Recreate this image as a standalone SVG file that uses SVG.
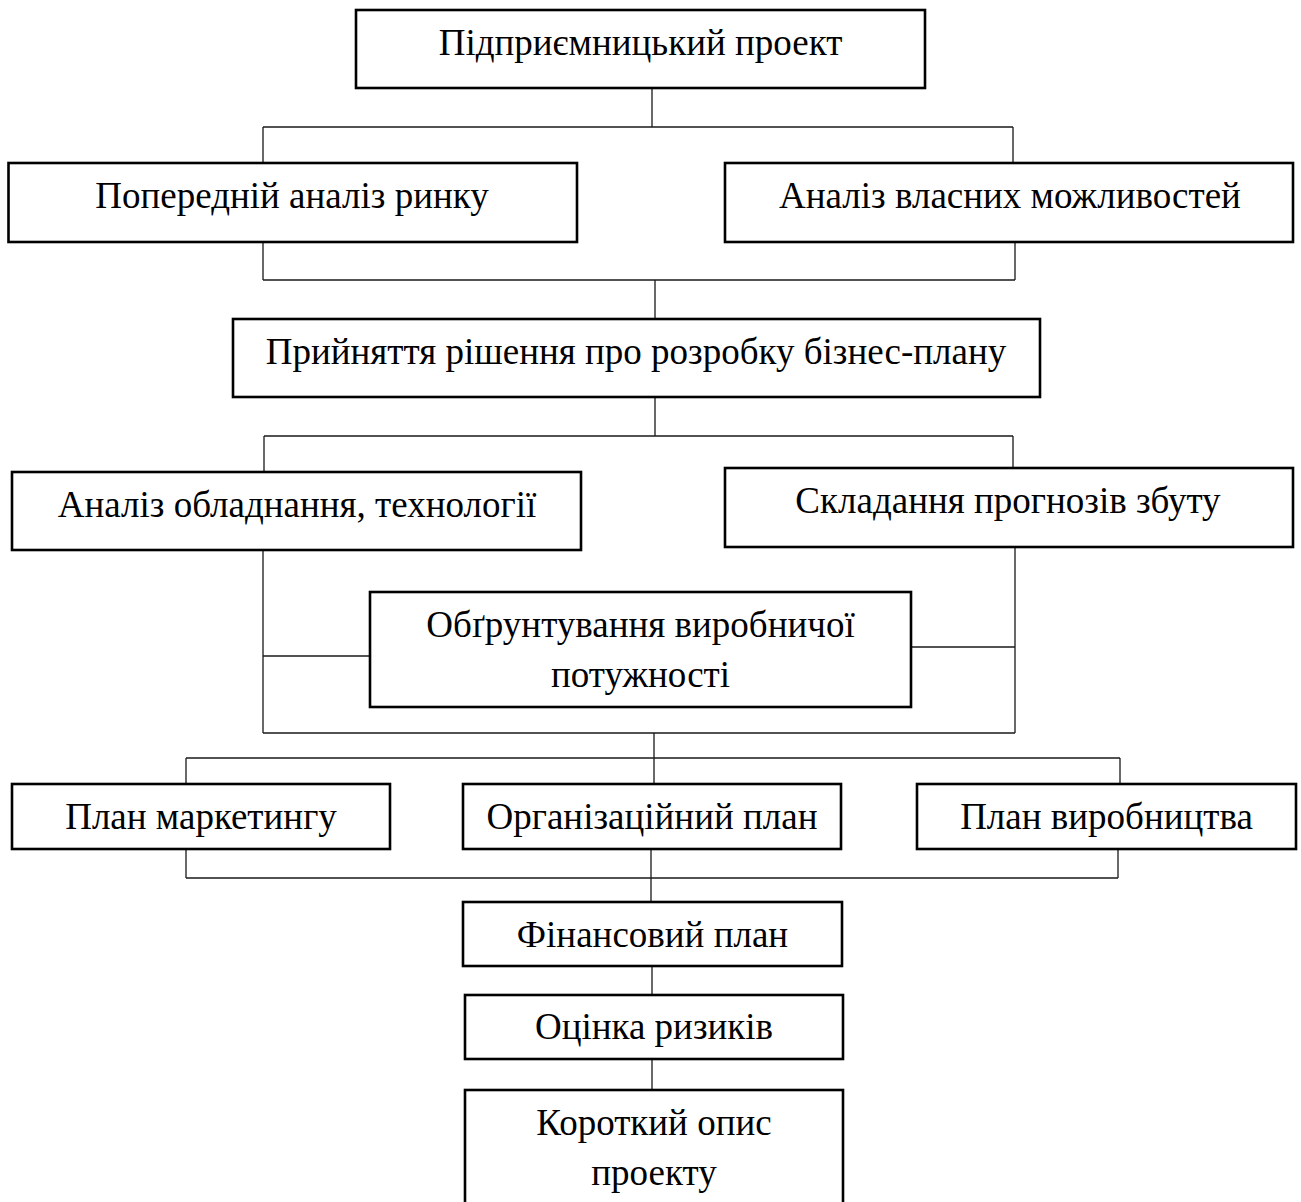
<svg xmlns="http://www.w3.org/2000/svg" width="1301" height="1202" viewBox="0 0 1301 1202">
  <style>
    .box { fill: #ffffff; stroke: #000000; stroke-width: 2.6; }
    .lbl { font-family: "Liberation Serif", "Times New Roman", serif; font-size: 37px; fill: #000000; text-anchor: middle; }
    .wire { fill: none; stroke: #1a1a1a; stroke-width: 1.3; }
  </style>
  <rect width="1301" height="1202" fill="#ffffff"/>

  <!-- connectors -->
  <g id="connectors" class="wire">
    <path d="M652 88 V127 M263 127 H1013 M263 127 V163 M1013 127 V163"/>
    <path d="M263 242 V280 M1015 242 V280 M263 280 H1015 M655 280 V319"/>
    <path d="M655 397 V436 M264 436 H1013 M264 436 V472 M1013 436 V468"/>
    <path d="M263 550 V733 M1015 547 V733 M263 733 H1015 M263 656 H370 M911 647 H1015"/>
    <path d="M654 733 V784 M186 758 H1120 M186 758 V784 M1120 758 V784"/>
    <path d="M186 849 V878 M1118 849 V878 M186 878 H1118 M651 849 V902"/>
    <path d="M652 966 V995 M652 1059 V1090"/>
  </g>

  <g id="n-project">
    <rect class="box" x="356" y="10" width="569" height="78"/>
    <text class="lbl" x="640.5" y="55">Підприємницький проект</text>
  </g>
  <g id="n-market">
    <rect class="box" x="8.5" y="163" width="568.5" height="79"/>
    <text class="lbl" x="292" y="208">Попередній аналіз ринку</text>
  </g>
  <g id="n-own">
    <rect class="box" x="725" y="163" width="568" height="79"/>
    <text class="lbl" x="1010" y="208">Аналіз власних можливостей</text>
  </g>
  <g id="n-decision">
    <rect class="box" x="233" y="319" width="807" height="78"/>
    <text class="lbl" x="636" y="364">Прийняття рішення про розробку бізнес-плану</text>
  </g>
  <g id="n-equipment">
    <rect class="box" x="12" y="472" width="569" height="78"/>
    <text class="lbl" x="297" y="517">Аналіз обладнання, технології</text>
  </g>
  <g id="n-forecast">
    <rect class="box" x="725" y="468" width="568" height="79"/>
    <text class="lbl" x="1008" y="513">Складання прогнозів збуту</text>
  </g>
  <g id="n-capacity">
    <rect class="box" x="370" y="592" width="541" height="115"/>
    <text class="lbl" x="640.5" y="637">Обґрунтування виробничої</text>
    <text class="lbl" x="640.5" y="687">потужності</text>
  </g>
  <g id="n-marketing">
    <rect class="box" x="12" y="784" width="378" height="65"/>
    <text class="lbl" x="201" y="829">План маркетингу</text>
  </g>
  <g id="n-org">
    <rect class="box" x="463" y="784" width="378" height="65"/>
    <text class="lbl" x="652" y="829">Організаційний план</text>
  </g>
  <g id="n-production">
    <rect class="box" x="917" y="784" width="379" height="65"/>
    <text class="lbl" x="1106.5" y="829">План виробництва</text>
  </g>
  <g id="n-finance">
    <rect class="box" x="463" y="902" width="379" height="64"/>
    <text class="lbl" x="652.5" y="947">Фінансовий план</text>
  </g>
  <g id="n-risk">
    <rect class="box" x="465" y="995" width="378" height="64"/>
    <text class="lbl" x="654" y="1039">Оцінка ризиків</text>
  </g>
  <g id="n-summary">
    <rect class="box" x="465" y="1090" width="378" height="120"/>
    <text class="lbl" x="654" y="1135">Короткий опис</text>
    <text class="lbl" x="654" y="1185">проекту</text>
  </g>
</svg>
